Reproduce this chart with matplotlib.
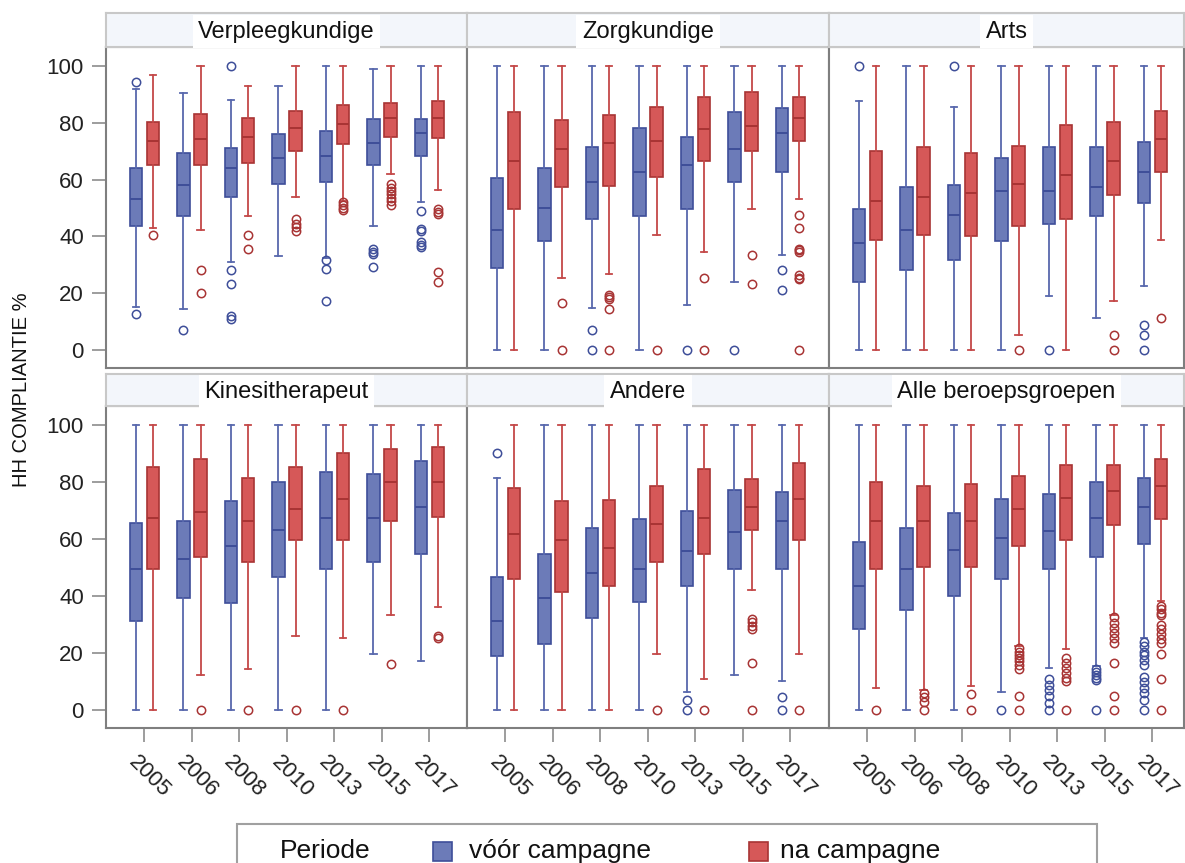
import matplotlib
matplotlib.use('Agg')
import matplotlib.pyplot as plt
from matplotlib.patches import Rectangle
import matplotlib.transforms as mtransforms

plt.rcParams['font.family'] = ['Liberation Sans', 'DejaVu Sans']

years = ['2005', '2006', '2008', '2010', '2013', '2015', '2017']
panel_titles = ['Verpleegkundige', 'Zorgkundige', 'Arts',
                'Kinesitherapeut', 'Andere', 'Alle beroepsgroepen']
legend_title = 'Periode'
period_labels = ['vóór campagne', 'na campagne']

# five-number summaries per year: [whisker low, q1, median, q3, whisker high]
verpl_voor = [[15, 43.5, 53, 64, 92], [14.5, 47, 58, 69.5, 90.5], [31, 54, 64, 71, 88],
              [33, 58.5, 67.5, 76, 93], [32.5, 59, 68.5, 77, 100], [43.5, 65.3, 72.8, 81.5, 99],
              [52, 68.4, 76.5, 81.5, 100]]
verpl_voor_out = [[94.5, 12.5], [7], [100, 28, 23, 12, 10.7], [], [31.5, 28.5, 17],
                  [35.5, 34.5, 33.8, 29.3], [48.8, 42.6, 42, 38, 37, 36.2]]
verpl_na = [[43, 65, 73.5, 80.5, 97], [42.3, 65, 74.3, 83, 100], [47, 66, 75, 81.6, 93],
            [54, 70.2, 78.2, 84.3, 100], [52.6, 72.5, 79.6, 86.3, 100], [62, 75.2, 81.6, 87.2, 100],
            [56.5, 74.8, 81.6, 87.8, 100]]
verpl_na_out = [[40.5], [28, 20], [40.3, 35.6], [46, 44.5, 43.3, 42], [52, 51, 50, 49.3],
                [58.5, 57, 56, 55, 53.5, 52.5, 51], [49.5, 48.5, 48, 27.5, 24]]

zorg_voor = [[0, 28.8, 42.3, 60.6, 100], [0, 38.3, 50, 64, 100], [14.7, 46, 59.3, 71.4, 100],
             [0, 47, 62.6, 78.2, 100], [15.8, 49.6, 65.3, 75, 100], [24, 59.3, 70.8, 83.7, 100],
             [33.5, 62.6, 76.3, 85.4, 100]]
zorg_voor_out = [[], [], [6.8, 0], [], [0], [0], [28, 21.2]]
zorg_na = [[0, 49.5, 66.7, 83.7, 100], [25.4, 57.3, 70.8, 81, 100], [26.6, 57.9, 72.8, 82.9, 100],
           [40.3, 61, 73.5, 85.7, 100], [34.4, 66.7, 77.8, 89, 100], [49.6, 70, 78.8, 91, 100],
           [53.2, 73.5, 81.6, 89, 100]]
zorg_na_out = [[], [16.5, 0], [19.4, 18.6, 18, 14.4, 0], [0], [25.4, 0], [33.5, 23.2],
               [47.6, 43, 35.6, 35, 34.5, 26.2, 25.4, 25, 0]]

arts_voor = [[0, 24, 37.6, 49.6, 87.6], [0, 28.2, 42.3, 57.3, 100], [0, 31.5, 47.6, 58, 85.7],
             [0, 38.3, 55.8, 67.5, 100], [19, 44.4, 55.8, 71.4, 100], [11.2, 47, 57.3, 71.4, 100],
             [22.6, 51.8, 62.6, 73.4, 100]]
arts_voor_out = [[100], [], [100], [], [0], [], [8.6, 5, 0]]
arts_na = [[0, 38.8, 52.6, 70, 100], [0, 40.3, 53.8, 71.4, 100], [0, 40, 55.2, 69.4, 100],
           [5, 43.5, 58.5, 72, 100], [0, 46, 61.7, 79.3, 100], [17, 54.6, 66.7, 80.3, 100],
           [38.8, 62.6, 74.3, 84.2, 100]]
arts_na_out = [[], [], [], [0], [], [5, 0], [11.2]]

kine_voor = [[0, 31.2, 49.5, 65.6, 100], [0, 39.4, 52.9, 66.5, 100], [0, 37.4, 57.6, 73.3, 100],
             [0, 46.8, 63.2, 80.2, 100], [0, 49.4, 67.4, 83.5, 100], [19.4, 52, 67.4, 82.7, 100],
             [17, 54.9, 71.2, 87.4, 100]]
kine_voor_out = [[], [], [], [], [], [], []]
kine_na = [[0, 49.4, 67.4, 85.5, 100], [12, 53.5, 69.4, 88.2, 100], [14.3, 52, 66.5, 81.4, 100],
           [25.9, 59.6, 70.7, 85.5, 100], [25.1, 59.6, 74.1, 90.4, 100], [33.3, 66.5, 80.2, 91.5, 100],
           [35.9, 67.9, 80.2, 92.2, 100]]
kine_na_out = [[], [0], [0], [0], [0], [16.1], [25.8, 25.1]]

andere_voor = [[0, 18.8, 31.2, 46.8, 81.4], [0, 22.9, 39.4, 54.9, 100], [0, 32.3, 48.2, 63.7, 100],
               [0, 38, 49.6, 67.1, 100], [6.1, 43.5, 55.9, 69.8, 100], [12.1, 49.4, 62.6, 77.3, 100],
               [10.2, 49.4, 66.5, 76.7, 100]]
andere_voor_out = [[90.4], [], [], [], [3.3, 0], [], [4.3, 0]]
andere_na = [[0, 46.1, 61.8, 78, 100], [0, 41.4, 59.8, 73.3, 100], [0, 43.5, 57, 73.9, 100],
             [19.6, 52, 65.3, 78.6, 100], [10.9, 54.7, 67.4, 84.7, 100], [42, 63.2, 71.2, 81.2, 100],
             [19.6, 59.8, 74, 86.8, 100]]
andere_na_out = [[], [], [], [0], [0], [31.8, 30.8, 29.5, 28.2, 16.5, 0], [0]]

alle_voor = [[0, 28.2, 43.3, 58.9, 100], [0, 35, 49.4, 63.7, 100], [0, 40, 56.2, 69.2, 100],
             [6.1, 46.1, 60.4, 74, 100], [14.7, 49.4, 62.9, 75.9, 100], [15.3, 53.8, 67.3, 80, 100],
             [25.1, 58.2, 71.2, 81.4, 100]]
alle_voor_out = [[], [], [], [0], [10.8, 8.7, 6.8, 4.6, 2.3, 0], [14.2, 13.2, 12.2, 11.2, 10.4, 0],
                 [23.9, 22.2, 20.4, 19.2, 17.5, 15.7, 11.6, 9.8, 7.5, 5.8, 3.5, 0]]
alle_na = [[7.6, 49.4, 66.5, 80.1, 100], [6.7, 50.2, 66.5, 78.6, 100], [8.2, 50.2, 66.5, 79.4, 100],
           [22.3, 57.4, 70.6, 82, 100], [21.2, 59.6, 74.5, 85.9, 100], [33.2, 65, 76.8, 85.9, 100],
           [38.2, 67.1, 78.8, 88.2, 100]]
alle_na_out = [[0], [5.9, 4.4, 2.5, 0], [5.3, 0], [21.5, 20.3, 19.2, 18.1, 16.9, 15.8, 14.4, 4.7, 0],
               [18.2, 16.5, 14.7, 12.9, 11, 10, 0], [32.4, 30.6, 28.8, 27, 25.3, 23.5, 16.5, 4.7, 0],
               [36.5, 35.3, 34.1, 33.3, 29.8, 28.2, 26.4, 24.7, 23.5, 19.6, 10.9, 0]]

panels = [(verpl_voor, verpl_voor_out, verpl_na, verpl_na_out),
          (zorg_voor, zorg_voor_out, zorg_na, zorg_na_out),
          (arts_voor, arts_voor_out, arts_na, arts_na_out),
          (kine_voor, kine_voor_out, kine_na, kine_na_out),
          (andere_voor, andere_voor_out, andere_na, andere_na_out),
          (alle_voor, alle_voor_out, alle_na, alle_na_out)]

blue_fill, blue_edge, blue_line = '#6C7BB8', '#3E4E99', '#5868AD'
red_fill, red_edge, red_line = '#D65858', '#A83434', '#C44848'
frame_col = '#7F7F7F'

W, H = 1185, 863
fig = plt.figure(figsize=(W / 100, H / 100), dpi=100)


def px_axes(x0, y0, x1, y1):
    # pixel box measured from top-left corner
    return fig.add_axes([x0 / W, 1 - y1 / H, (x1 - x0) / W, (y1 - y0) / H])


def draw_boxes(ax, stats, outs, offset, fill, edge, line):
    st = [dict(whislo=s[0], q1=s[1], med=s[2], q3=s[3], whishi=s[4], fliers=o)
          for s, o in zip(stats, outs)]
    ax.bxp(st, positions=[i + offset for i in range(len(st))], widths=0.26, capwidths=0.13,
           patch_artist=True, manage_ticks=False,
           boxprops=dict(facecolor=fill, edgecolor=edge, linewidth=1.2),
           medianprops=dict(color=edge, linewidth=1.4),
           whiskerprops=dict(color=line, linewidth=1.3),
           capprops=dict(color=line, linewidth=1.3),
           flierprops=dict(marker='o', markerfacecolor='none', markeredgecolor=edge,
                           markersize=6, markeredgewidth=1.1))


cols = [(106, 467), (467, 829), (829, 1184)]
rows = [(47, 368, 13), (406, 728, 374)]
px_per_unit = 47.5
x_left = -0.81
label_shift = mtransforms.ScaledTranslation(-5 / 100, 0, fig.dpi_scale_trans)

for k, (voor, voor_out, na, na_out) in enumerate(panels):
    r, c = divmod(k, 3)
    x0, x1 = cols[c]
    top, bot, strip_top = rows[r]
    ax = px_axes(x0, top, x1, bot)
    draw_boxes(ax, voor, voor_out, -0.18, blue_fill, blue_edge, blue_line)
    draw_boxes(ax, na, na_out, 0.18, red_fill, red_edge, red_line)
    ax.set_xlim(x_left, x_left + (x1 - x0) / px_per_unit)
    ax.set_ylim(-6.5, 106.8)
    for sp in ax.spines.values():
        sp.set_color(frame_col)
        sp.set_linewidth(1.5)
    ax.tick_params(colors='#8C8C8C', labelcolor='#222222', labelsize=16, length=10, width=1.2)
    ax.tick_params(axis='y', pad=6)
    ax.tick_params(axis='x', pad=7)
    if c == 0:
        ax.set_yticks([0, 20, 40, 60, 80, 100])
    else:
        ax.set_yticks([])
    if r == 1:
        ax.set_xticks(range(len(years)))
        ax.set_xticklabels(years, rotation=-45, ha='left', va='top', rotation_mode='anchor')
        for lab in ax.get_xticklabels():
            lab.set_transform(lab.get_transform() + label_shift)
    else:
        ax.set_xticks([])

    # strip header
    sax = px_axes(x0, strip_top, x1, top)
    sax.set_facecolor('#F3F6FB')
    sax.set_xticks([])
    sax.set_yticks([])
    for sp in sax.spines.values():
        sp.set_color('#C8C8C8')
        sp.set_linewidth(1.5)
    sax.text(0.5, 0.45, panel_titles[k], transform=sax.transAxes, ha='center', va='center',
             fontsize=17, color='#111111',
             bbox=dict(facecolor='white', edgecolor='none', pad=4))

fig.text(22 / W, 1 - 390 / H, 'HH COMPLIANTIE %', rotation=90, ha='center', va='center',
         fontsize=14.5, color='#111111')

# legend box at the bottom
fig.patches.append(Rectangle((237 / W, 1 - 885 / H), (1097 - 237) / W, 61 / H,
                             transform=fig.transFigure, facecolor='none',
                             edgecolor='#A0A0A0', linewidth=1.5))
fig.text(280 / W, 1 - 851 / H, legend_title, ha='left', va='center', fontsize=19, color='#111111')
for (sx, tx), lab, fill, edge in zip([(433, 469), (749, 780)], period_labels,
                                     [blue_fill, red_fill], [blue_edge, red_edge]):
    fig.patches.append(Rectangle((sx / W, 1 - 861 / H), 19 / W, 19 / H, transform=fig.transFigure,
                                 facecolor=fill, edgecolor=edge, linewidth=1.2))
    fig.text(tx / W, 1 - 851 / H, lab, ha='left', va='center', fontsize=19, color='#111111')

fig.savefig('out.png', dpi=100)
